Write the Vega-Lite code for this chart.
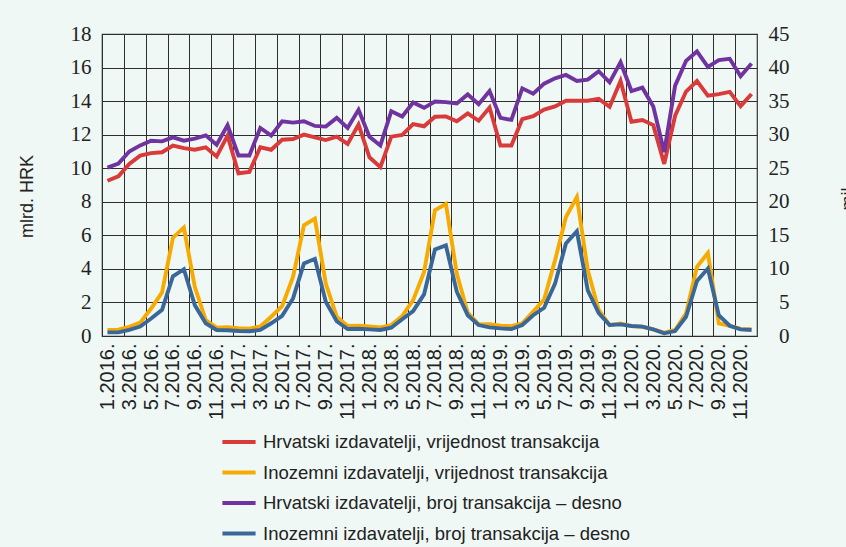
{
  "$schema": "https://vega.github.io/schema/vega-lite/v6.json",
  "width": 655,
  "height": 302,
  "autosize": {"type": "none"},
  "padding": {"left": 102, "top": 34, "right": 89, "bottom": 211},
  "background": "#EFF8F5",
  "config": {
    "view": {"stroke": "#333333", "strokeWidth": 1.2},
    "font": "Liberation Sans",
    "axis": {"gridColor": "#2e2e2e", "gridOpacity": 1, "gridWidth": 1, "domain": false, "ticks": false, "labelColor": "#222222", "titleColor": "#222222", "titleFontWeight": "normal"}
  },
  "data": {
    "values": [
      {"m": "1.2016.", "hv": 9.25, "iv": 0.36, "hb": 25.1, "ib": 0.54},
      {"m": "2.2016.", "hv": 9.52, "iv": 0.38, "hb": 25.7, "ib": 0.54},
      {"m": "3.2016.", "hv": 10.26, "iv": 0.55, "hb": 27.5, "ib": 0.9},
      {"m": "4.2016.", "hv": 10.75, "iv": 0.8, "hb": 28.4, "ib": 1.4},
      {"m": "5.2016.", "hv": 10.9, "iv": 1.64, "hb": 29.1, "ib": 2.6},
      {"m": "6.2016.", "hv": 10.95, "iv": 2.6, "hb": 29.0, "ib": 3.9},
      {"m": "7.2016.", "hv": 11.35, "iv": 5.86, "hb": 29.6, "ib": 8.9},
      {"m": "8.2016.", "hv": 11.2, "iv": 6.46, "hb": 29.1, "ib": 9.95},
      {"m": "9.2016.", "hv": 11.1, "iv": 2.93, "hb": 29.4, "ib": 4.6},
      {"m": "10.2016.", "hv": 11.25, "iv": 0.95, "hb": 29.9, "ib": 1.9},
      {"m": "11.2016.", "hv": 10.7, "iv": 0.5, "hb": 28.5, "ib": 0.9},
      {"m": "12.2016.", "hv": 11.94, "iv": 0.53, "hb": 31.4, "ib": 0.85},
      {"m": "1.2017.", "hv": 9.7, "iv": 0.46, "hb": 26.9, "ib": 0.75},
      {"m": "2.2017.", "hv": 9.78, "iv": 0.44, "hb": 26.9, "ib": 0.7},
      {"m": "3.2017.", "hv": 11.25, "iv": 0.57, "hb": 31.0, "ib": 0.9},
      {"m": "4.2017.", "hv": 11.1, "iv": 1.15, "hb": 29.85, "ib": 1.9},
      {"m": "5.2017.", "hv": 11.7, "iv": 1.78, "hb": 32.0, "ib": 3.0},
      {"m": "6.2017.", "hv": 11.74, "iv": 3.52, "hb": 31.8, "ib": 5.6},
      {"m": "7.2017.", "hv": 12.0, "iv": 6.6, "hb": 32.0, "ib": 10.8},
      {"m": "8.2017.", "hv": 11.84, "iv": 7.0, "hb": 31.3, "ib": 11.5},
      {"m": "9.2017.", "hv": 11.68, "iv": 3.13, "hb": 31.2, "ib": 5.1},
      {"m": "10.2017.", "hv": 11.88, "iv": 1.15, "hb": 32.5, "ib": 2.2},
      {"m": "11.2017.", "hv": 11.45, "iv": 0.6, "hb": 31.0, "ib": 1.04},
      {"m": "12.2017.", "hv": 12.6, "iv": 0.61, "hb": 33.7, "ib": 1.09},
      {"m": "1.2018.", "hv": 10.65, "iv": 0.57, "hb": 29.7, "ib": 0.99},
      {"m": "2.2018.", "hv": 10.06, "iv": 0.51, "hb": 28.4, "ib": 0.9},
      {"m": "3.2018.", "hv": 11.88, "iv": 0.65, "hb": 33.5, "ib": 1.24},
      {"m": "4.2018.", "hv": 11.98, "iv": 1.19, "hb": 32.7, "ib": 2.5},
      {"m": "5.2018.", "hv": 12.63, "iv": 2.14, "hb": 34.8, "ib": 3.7},
      {"m": "6.2018.", "hv": 12.5, "iv": 3.8, "hb": 34.0, "ib": 6.2},
      {"m": "7.2018.", "hv": 13.07, "iv": 7.49, "hb": 34.95, "ib": 12.9},
      {"m": "8.2018.", "hv": 13.09, "iv": 7.88, "hb": 34.85, "ib": 13.5},
      {"m": "9.2018.", "hv": 12.8, "iv": 3.72, "hb": 34.65, "ib": 6.6},
      {"m": "10.2018.", "hv": 13.27, "iv": 1.39, "hb": 36.0, "ib": 3.1},
      {"m": "11.2018.", "hv": 12.83, "iv": 0.69, "hb": 34.55, "ib": 1.63},
      {"m": "12.2018.", "hv": 13.62, "iv": 0.71, "hb": 36.5, "ib": 1.29},
      {"m": "1.2019.", "hv": 11.35, "iv": 0.61, "hb": 32.5, "ib": 1.14},
      {"m": "2.2019.", "hv": 11.35, "iv": 0.59, "hb": 32.2, "ib": 1.04},
      {"m": "3.2019.", "hv": 12.93, "iv": 0.75, "hb": 36.9, "ib": 1.63},
      {"m": "4.2019.", "hv": 13.1, "iv": 1.45, "hb": 36.1, "ib": 3.1},
      {"m": "5.2019.", "hv": 13.49, "iv": 2.18, "hb": 37.6, "ib": 4.2},
      {"m": "6.2019.", "hv": 13.68, "iv": 4.51, "hb": 38.4, "ib": 7.8},
      {"m": "7.2019.", "hv": 14.02, "iv": 7.09, "hb": 38.9, "ib": 13.8},
      {"m": "8.2019.", "hv": 14.02, "iv": 8.28, "hb": 38.0, "ib": 15.6},
      {"m": "9.2019.", "hv": 14.02, "iv": 3.92, "hb": 38.2, "ib": 6.8},
      {"m": "10.2019.", "hv": 14.13, "iv": 1.55, "hb": 39.45, "ib": 3.4},
      {"m": "11.2019.", "hv": 13.66, "iv": 0.65, "hb": 37.8, "ib": 1.63},
      {"m": "12.2019.", "hv": 15.2, "iv": 0.75, "hb": 40.8, "ib": 1.73},
      {"m": "1.2020.", "hv": 12.77, "iv": 0.59, "hb": 36.5, "ib": 1.49},
      {"m": "2.2020.", "hv": 12.87, "iv": 0.55, "hb": 37.0, "ib": 1.39},
      {"m": "3.2020.", "hv": 12.57, "iv": 0.4, "hb": 34.2, "ib": 0.99},
      {"m": "4.2020.", "hv": 10.26, "iv": 0.2, "hb": 27.4, "ib": 0.4},
      {"m": "5.2020.", "hv": 13.13, "iv": 0.36, "hb": 37.3, "ib": 0.74},
      {"m": "6.2020.", "hv": 14.57, "iv": 1.35, "hb": 41.0, "ib": 2.87},
      {"m": "7.2020.", "hv": 15.2, "iv": 4.12, "hb": 42.4, "ib": 8.2},
      {"m": "8.2020.", "hv": 14.32, "iv": 4.95, "hb": 40.1, "ib": 10.05},
      {"m": "9.2020.", "hv": 14.42, "iv": 0.75, "hb": 41.1, "ib": 3.1},
      {"m": "10.2020.", "hv": 14.55, "iv": 0.61, "hb": 41.3, "ib": 1.53},
      {"m": "11.2020.", "hv": 13.7, "iv": 0.42, "hb": 38.7, "ib": 0.99},
      {"m": "12.2020.", "hv": 14.42, "iv": 0.4, "hb": 40.6, "ib": 0.9}
    ]
  },
  "layer": [
    {
      "transform": [{"fold": ["hv", "iv"], "as": ["s", "v"]}],
      "mark": {"type": "line", "strokeWidth": 3.9},
      "encoding": {
        "x": {
          "field": "m", "type": "ordinal", "sort": null,
          "scale": {"type": "point", "padding": 0.5},
          "axis": {
            "orient": "bottom", "title": null, "grid": false,
            "values": ["1.2016.", "3.2016.", "5.2016.", "7.2016.", "9.2016.", "11.2016.", "1.2017.", "3.2017.", "5.2017.", "7.2017.", "9.2017.", "11.2017.", "1.2018.", "3.2018.", "5.2018.", "7.2018.", "9.2018.", "11.2018.", "1.2019.", "3.2019.", "5.2019.", "7.2019.", "9.2019.", "11.2019.", "1.2020.", "3.2020.", "5.2020.", "7.2020.", "9.2020.", "11.2020."],
            "labelAngle": 270, "labelFontSize": 20, "labelPadding": 7
          }
        },
        "y": {
          "field": "v", "type": "quantitative",
          "scale": {"domain": [0, 18]},
          "axis": {
            "orient": "left", "values": [0, 2, 4, 6, 8, 10, 12, 14, 16, 18], "grid": true,
            "labelPadding": 11, "labelFontSize": 21, "labelFont": "Liberation Sans Narrow",
            "title": "mlrd. HRK", "titleFontSize": 18, "titleAngle": 270, "titleX": -70, "titleY": 162,
            "titleAlign": "center", "titleBaseline": "alphabetic"
          }
        },
        "color": {
          "field": "s", "type": "nominal",
          "scale": {"domain": ["hv", "iv", "hb", "ib"], "range": ["#D93A3A", "#F7AA00", "#7033A0", "#3A679A"]},
          "legend": {
            "title": null, "orient": "none", "legendX": 118, "legendY": 389, "direction": "vertical",
            "symbolType": "stroke", "symbolStrokeWidth": 4, "symbolSize": 1100, "labelFontSize": 18.5,
            "labelLimit": 600, "labelOffset": 5, "rowPadding": 1.5, "padding": 0, "labelColor": "#222222",
            "labelExpr": "{'hv': 'Hrvatski izdavatelji, vrijednost transakcija', 'iv': 'Inozemni izdavatelji, vrijednost transakcija', 'hb': 'Hrvatski izdavatelji, broj transakcija – desno', 'ib': 'Inozemni izdavatelji, broj transakcija – desno'}[datum.label]"
          }
        }
      }
    },
    {
      "transform": [{"fold": ["hb", "ib"], "as": ["s", "v"]}],
      "mark": {"type": "line", "strokeWidth": 3.9},
      "encoding": {
        "x": {
          "field": "m", "type": "ordinal", "sort": null,
          "scale": {"type": "point", "padding": 0.5},
          "axis": {
            "orient": "top", "title": null, "grid": true, "labels": false,
            "values": ["1.2016.", "3.2016.", "5.2016.", "7.2016.", "9.2016.", "11.2016.", "1.2017.", "3.2017.", "5.2017.", "7.2017.", "9.2017.", "11.2017.", "1.2018.", "3.2018.", "5.2018.", "7.2018.", "9.2018.", "11.2018.", "1.2019.", "3.2019.", "5.2019.", "7.2019.", "9.2019.", "11.2019.", "1.2020.", "3.2020.", "5.2020.", "7.2020.", "9.2020.", "11.2020."],
            "tickOffset": -5.458
          }
        },
        "y": {
          "field": "v", "type": "quantitative",
          "scale": {"domain": [0, 45]},
          "axis": {
            "orient": "right", "values": [0, 5, 10, 15, 20, 25, 30, 35, 40, 45], "grid": false,
            "labelAlign": "right", "labelPadding": 32, "labelFontSize": 21, "labelFont": "Liberation Sans Narrow",
            "title": "mil.", "titleFontSize": 18, "titleAngle": 270, "titleX": 96, "titleY": 162,
            "titleAlign": "center", "titleBaseline": "alphabetic"
          }
        },
        "color": {"field": "s", "type": "nominal"}
      }
    }
  ],
  "resolve": {"scale": {"y": "independent"}, "axis": {"x": "independent"}}
}
